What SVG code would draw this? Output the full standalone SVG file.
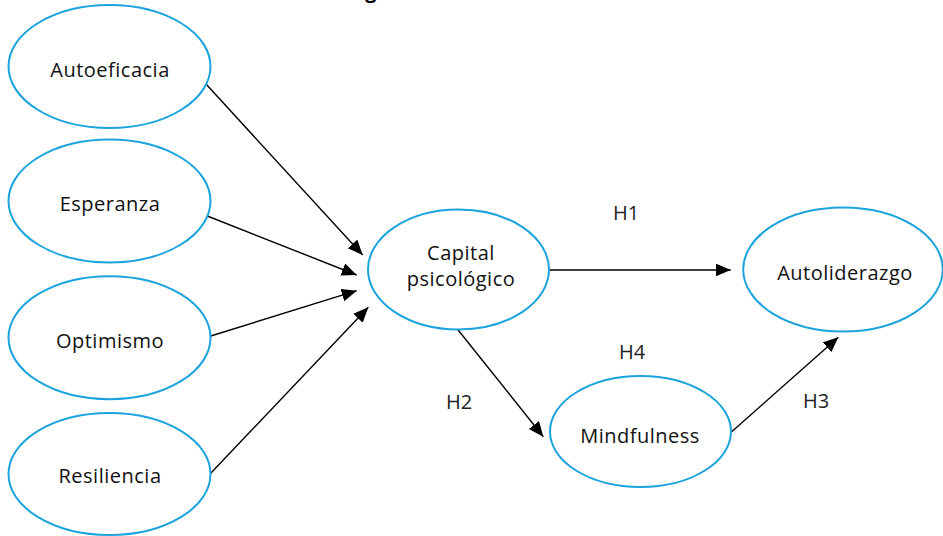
<svg xmlns="http://www.w3.org/2000/svg" width="943" height="536" viewBox="0 0 943 536">
<defs>
<marker id="arr" markerUnits="userSpaceOnUse" markerWidth="16" markerHeight="14" refX="15" refY="6.5" orient="auto">
<path d="M0,0 L15,6.5 L0,13 z" fill="#000"/>
</marker>
</defs>
<style>
.node ellipse{fill:#fff;stroke:#1ba3dd;stroke-width:2}
.node text{font-family:"Open Sans","Noto Sans",sans-serif;font-size:20px;fill:#111;text-anchor:middle;letter-spacing:0.5px}
.conn line{stroke:#000;stroke-width:1.4;marker-end:url(#arr)}
.lbl{font-family:"Open Sans","Noto Sans",sans-serif;font-size:20px;fill:#222;text-anchor:middle}
</style>
<rect width="943" height="536" fill="#fff"/>
<text x="371" y="-2" style="font-family:'Open Sans',sans-serif;font-size:20px;font-weight:bold;fill:#000;text-anchor:middle">g</text>
<g class="conn" id="connectors">
<line x1="205.3" y1="83.3" x2="362.7" y2="255"/>
<line x1="207.3" y1="216" x2="356.7" y2="275"/>
<line x1="210.7" y1="336" x2="356.7" y2="290.7"/>
<line x1="210.7" y1="473.3" x2="368.3" y2="307.3"/>
<line x1="550" y1="270" x2="730.7" y2="270"/>
<line x1="450.7" y1="320.7" x2="543.3" y2="436.7"/>
<line x1="731.7" y1="431.7" x2="838.3" y2="337.3"/>
</g>
<g class="node" id="autoeficacia"><ellipse cx="109.5" cy="66.5" rx="101" ry="61.5"/><text x="110" y="77">Autoeficacia</text></g>
<g class="node" id="esperanza"><ellipse cx="109.5" cy="201" rx="101" ry="61.5"/><text x="110" y="211">Esperanza</text></g>
<g class="node" id="optimismo"><ellipse cx="109.5" cy="337.7" rx="101" ry="61.5"/><text x="110" y="348">Optimismo</text></g>
<g class="node" id="resiliencia"><ellipse cx="109.5" cy="474" rx="101" ry="61"/><text x="110" y="483">Resiliencia</text></g>
<g class="node" id="capital"><ellipse cx="458.5" cy="269.5" rx="90.5" ry="60"/><text x="461" y="260">Capital</text><text x="461" y="286">psicológico</text></g>
<g class="node" id="autoliderazgo"><ellipse cx="843" cy="269.5" rx="99.8" ry="62"/><text x="845" y="279.5">Autoliderazgo</text></g>
<g class="node" id="mindfulness"><ellipse cx="640.5" cy="431.5" rx="90.5" ry="55.5"/><text x="640" y="443">Mindfulness</text></g>
<g id="labels">
<text class="lbl" x="626" y="220">H1</text>
<text class="lbl" x="459" y="409">H2</text>
<text class="lbl" x="816" y="408">H3</text>
<text class="lbl" x="632" y="359">H4</text>
</g>
</svg>
